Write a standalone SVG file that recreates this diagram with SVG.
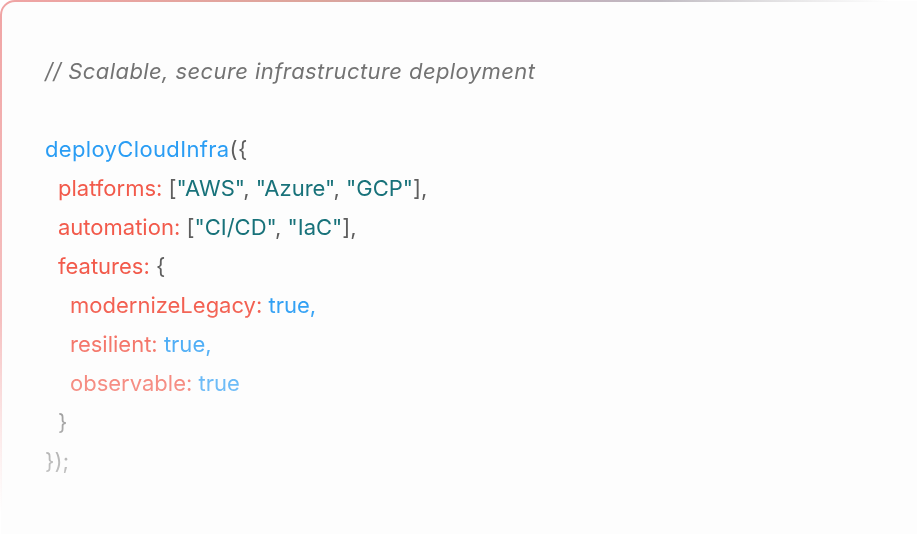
<svg xmlns="http://www.w3.org/2000/svg" width="917" height="534" viewBox="0 0 917 534">
<defs>
<linearGradient id="gTop" x1="0" y1="0" x2="917" y2="0" gradientUnits="userSpaceOnUse">
<stop offset="0" stop-color="#f0a4a4"/>
<stop offset="0.35" stop-color="#dca59b"/>
<stop offset="0.5" stop-color="#c9a4b6"/>
<stop offset="0.72" stop-color="#b9b3bb" stop-opacity="0.9"/>
<stop offset="0.97" stop-color="#c8c8c8" stop-opacity="0"/>
</linearGradient>
<linearGradient id="gLeft" x1="0" y1="0" x2="0" y2="534" gradientUnits="userSpaceOnUse">
<stop offset="0" stop-color="#f0a4a4"/>
<stop offset="0.6" stop-color="#f3b0b0" stop-opacity="0.8"/>
<stop offset="0.96" stop-color="#f8c8c8" stop-opacity="0"/>
</linearGradient>
<linearGradient id="gFade" x1="0" y1="0" x2="0" y2="534" gradientUnits="userSpaceOnUse">
<stop offset="0" stop-color="#fff"/>
<stop offset="0.55" stop-color="#fff"/>
<stop offset="0.9" stop-color="#fff" stop-opacity="0.35"/>
<stop offset="1" stop-color="#fff" stop-opacity="0.2"/>
</linearGradient>
<mask id="fade" maskUnits="userSpaceOnUse" x="0" y="0" width="917" height="534">
<rect x="0" y="0" width="917" height="534" fill="url(#gFade)"/>
</mask>
<style>
text{font-family:Inter,"Noto Sans","Liberation Sans",sans-serif;font-size:22px;}
.c{fill:#737373;font-style:italic;}
.f{fill:#2a9df4;}
.p{fill:#5e5e5e;}
.k{fill:#f25a4b;}
.s{fill:#18727a;}
.b{fill:#2a9df4;}
</style>
</defs>
<rect x="0" y="0" width="917" height="534" fill="#ffffff"/>
<g id="card">
<rect x="1" y="1" width="930" height="560" rx="14" fill="#fdfdfd"/>
<path d="M1,15 A14,14 0 0 1 15,1 H917" fill="none" stroke="url(#gTop)" stroke-width="2"/>
<path d="M1,15 V534" fill="none" stroke="url(#gLeft)" stroke-width="2"/>
</g>
<g id="code" mask="url(#fade)">
<text class="c" x="45" y="79" textLength="490" lengthAdjust="spacing">// Scalable, secure infrastructure deployment</text>
<text x="45" y="157" letter-spacing="0.35"><tspan class="f">deployCloudInfra</tspan><tspan class="p">({</tspan></text>
<text x="58" y="196"><tspan class="k">platforms:</tspan><tspan class="p"> [</tspan><tspan class="s">"AWS"</tspan><tspan class="p">, </tspan><tspan class="s">"Azure"</tspan><tspan class="p">, </tspan><tspan class="s">"GCP"</tspan><tspan class="p">],</tspan></text>
<text x="58" y="235"><tspan class="k">automation:</tspan><tspan class="p"> [</tspan><tspan class="s">"CI/CD"</tspan><tspan class="p">, </tspan><tspan class="s">"IaC"</tspan><tspan class="p">],</tspan></text>
<text x="58" y="274"><tspan class="k">features:</tspan><tspan class="p"> {</tspan></text>
<text x="70" y="313"><tspan class="k">modernizeLegacy:</tspan><tspan class="b"> true,</tspan></text>
<text x="70" y="352"><tspan class="k">resilient:</tspan><tspan class="b"> true,</tspan></text>
<text x="70" y="391"><tspan class="k">observable:</tspan><tspan class="b"> true</tspan></text>
<text x="58" y="430" class="p">}</text>
<text x="45" y="469" class="p">});</text>
</g>
</svg>
